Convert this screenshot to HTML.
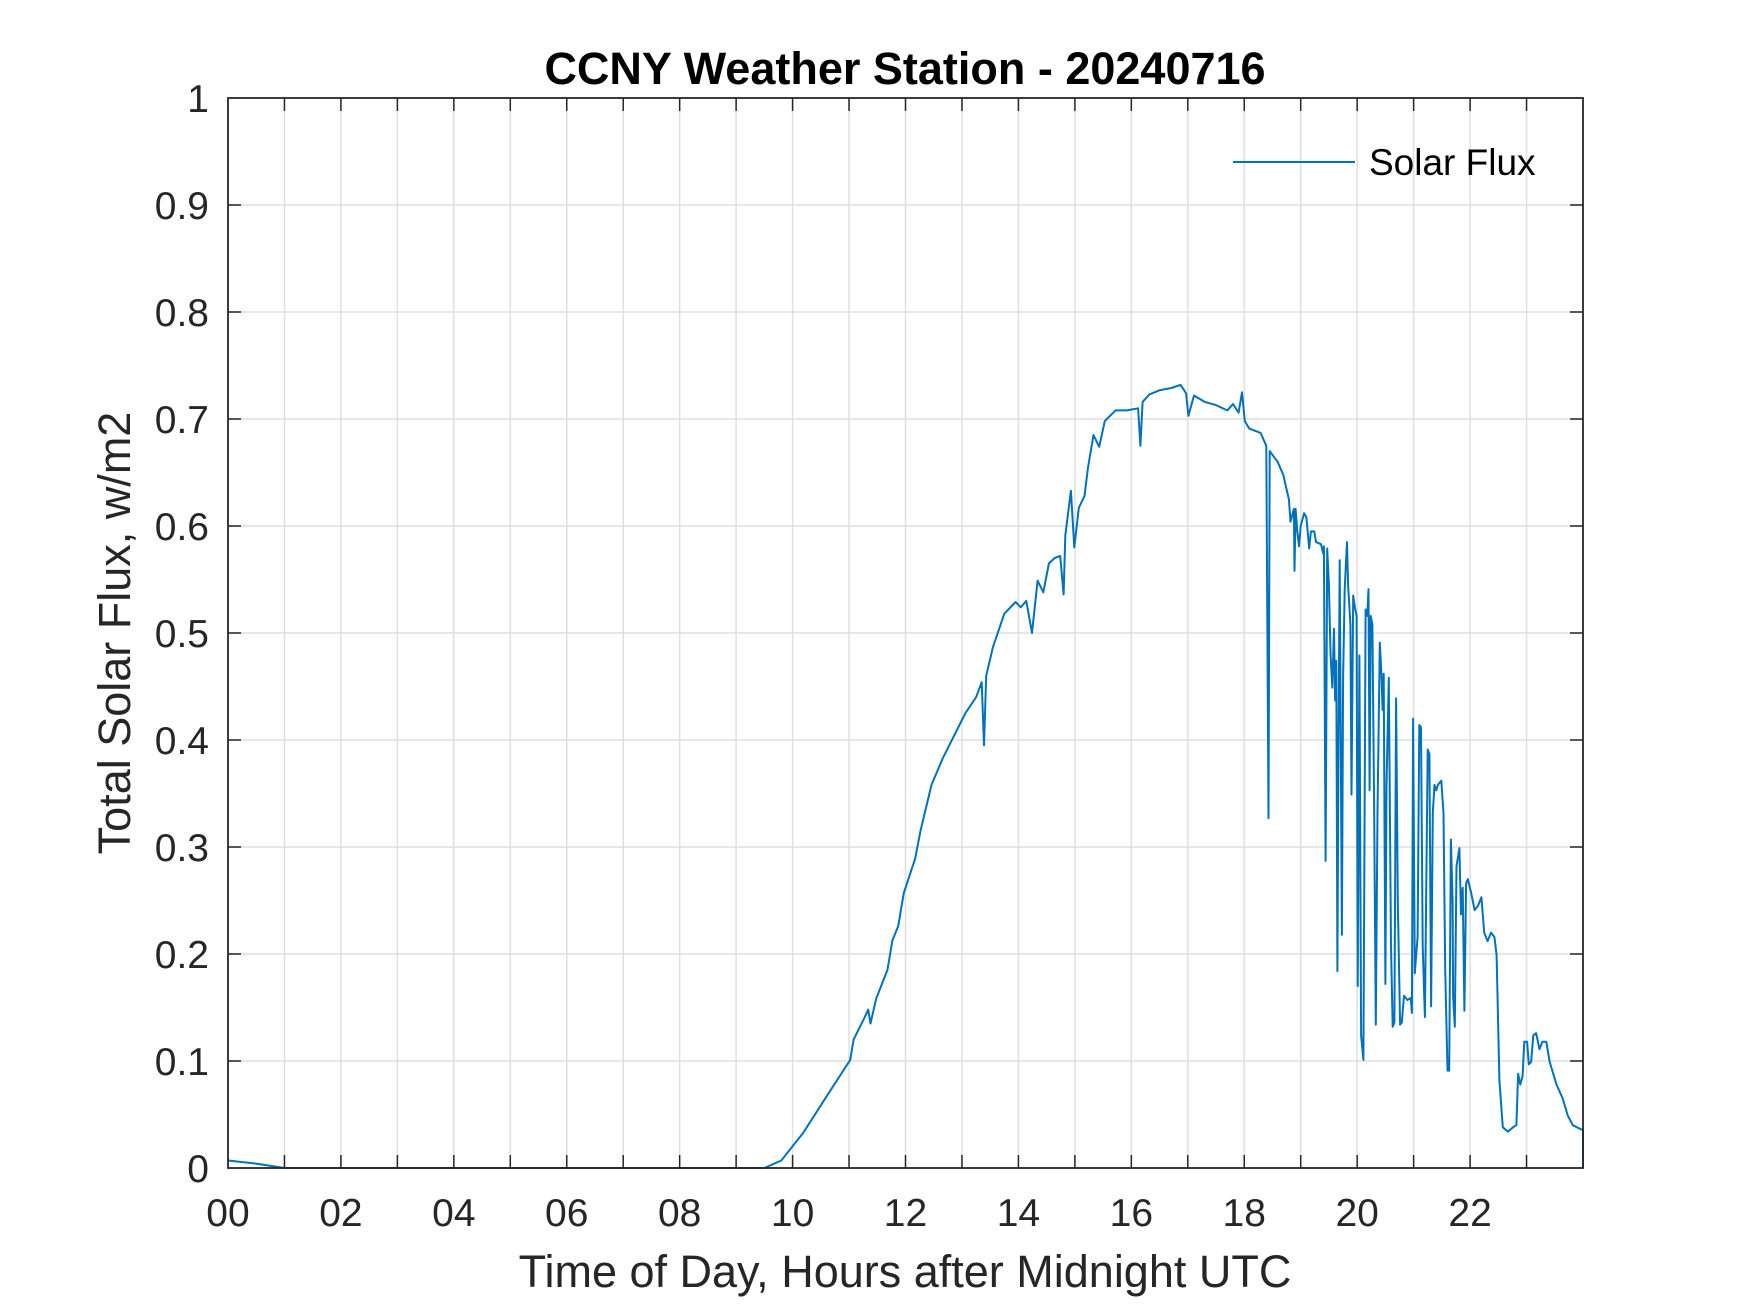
<!DOCTYPE html>
<html><head><meta charset="utf-8"><style>
html,body{margin:0;padding:0;background:#fff;}
svg{display:block;font-family:"Liberation Sans",Arial,sans-serif;}
</style></head><body>
<svg id="chart" width="1750" height="1313" viewBox="0 0 1750 1313">
<rect width="1750" height="1313" fill="#fff"/>
<g id="grid"></g>
<g id="series"></g>
<g id="axes"></g>
<text x="905" y="84" text-anchor="middle" font-size="45" font-weight="bold" fill="#000">CCNY Weather Station - 20240716</text>
<text x="905" y="1287" text-anchor="middle" font-size="45" fill="#262626">Time of Day, Hours after Midnight UTC</text>
<text transform="translate(130,633) rotate(-90)" text-anchor="middle" font-size="45" fill="#262626">Total Solar Flux, w/m2</text>
<g>
<line x1="1233" y1="162" x2="1355" y2="162" stroke="#0072BD" stroke-width="2"/>
<text x="1369" y="175" font-size="37" fill="#000">Solar Flux</text>
</g>
</svg>
<script>
const hours = [0,0.51,1.0,9.5,9.8,10.19,10.59,11.02,11.08,11.28,11.34,11.38,11.48,11.68,11.77,11.87,11.97,12.17,12.27,12.46,12.66,12.86,13.06,13.25,13.35,13.39,13.43,13.55,13.75,13.95,14.04,14.14,14.24,14.34,14.44,14.54,14.64,14.74,14.80,14.83,14.93,14.99,15.07,15.17,15.23,15.33,15.43,15.53,15.72,15.92,16.12,16.16,16.20,16.32,16.51,16.71,16.87,16.97,17.01,17.11,17.30,17.50,17.70,17.80,17.90,17.96,18.01,18.09,18.29,18.39,18.43,18.45,18.59,18.69,18.79,18.82,18.88,18.89,18.91,18.94,18.97,19.0,19.06,19.10,19.15,19.18,19.24,19.27,19.36,19.40,19.41,19.44,19.47,19.50,19.53,19.56,19.59,19.61,19.63,19.65,19.67,19.69,19.73,19.75,19.78,19.82,19.84,19.88,19.90,19.93,19.96,19.99,20.01,20.04,20.07,20.11,20.15,20.18,20.20,20.22,20.24,20.27,20.30,20.33,20.36,20.40,20.43,20.45,20.47,20.50,20.52,20.56,20.60,20.63,20.66,20.69,20.72,20.76,20.79,20.83,20.89,20.95,20.97,20.99,21.02,21.07,21.10,21.13,21.16,21.20,21.25,21.28,21.31,21.34,21.37,21.40,21.43,21.49,21.53,21.56,21.60,21.63,21.66,21.69,21.70,21.73,21.76,21.81,21.84,21.87,21.90,21.93,21.96,22.02,22.08,22.14,22.20,22.25,22.31,22.37,22.43,22.47,22.52,22.58,22.67,22.76,22.82,22.85,22.89,22.93,22.96,23.01,23.04,23.08,23.12,23.17,23.23,23.28,23.35,23.41,23.53,23.64,23.73,23.82,23.97,24.0,24.0];
const flux = [0.007,0.004,0,0,0.007,0.033,0.066,0.101,0.12,0.141,0.148,0.135,0.158,0.185,0.213,0.226,0.257,0.289,0.316,0.358,0.383,0.404,0.425,0.44,0.454,0.395,0.46,0.487,0.518,0.529,0.524,0.53,0.50,0.549,0.538,0.565,0.570,0.572,0.536,0.591,0.633,0.58,0.617,0.628,0.654,0.685,0.674,0.698,0.708,0.708,0.71,0.675,0.716,0.723,0.727,0.729,0.732,0.724,0.703,0.722,0.716,0.713,0.708,0.714,0.706,0.725,0.698,0.691,0.687,0.675,0.327,0.67,0.66,0.648,0.625,0.604,0.616,0.558,0.616,0.595,0.581,0.60,0.612,0.608,0.579,0.595,0.595,0.585,0.583,0.574,0.581,0.287,0.579,0.545,0.479,0.449,0.504,0.437,0.474,0.184,0.399,0.568,0.218,0.458,0.541,0.585,0.545,0.508,0.349,0.535,0.524,0.516,0.17,0.479,0.124,0.101,0.522,0.516,0.541,0.353,0.516,0.508,0.341,0.134,0.332,0.491,0.462,0.428,0.462,0.172,0.358,0.458,0.207,0.132,0.136,0.439,0.249,0.134,0.136,0.161,0.157,0.159,0.145,0.42,0.182,0.216,0.414,0.412,0.207,0.141,0.391,0.387,0.151,0.332,0.358,0.353,0.358,0.362,0.332,0.186,0.091,0.091,0.307,0.249,0.161,0.132,0.282,0.299,0.237,0.262,0.147,0.266,0.27,0.257,0.241,0.245,0.253,0.22,0.212,0.22,0.216,0.199,0.082,0.038,0.034,0.038,0.04,0.088,0.078,0.086,0.118,0.118,0.097,0.099,0.124,0.126,0.111,0.118,0.118,0.099,0.078,0.065,0.049,0.04,0.036,0.036,0];
const xTickHours = [0,2,4,6,8,10,12,14,16,18,20,22];
const xTickLabels = ["00","02","04","06","08","10","12","14","16","18","20","22"];
const yTickValues = [0,0.1,0.2,0.3,0.4,0.5,0.6,0.7,0.8,0.9,1];
const yTickLabels = ["0","0.1","0.2","0.3","0.4","0.5","0.6","0.7","0.8","0.9","1"];

const NS = "http://www.w3.org/2000/svg";
const L = 228, R = 1583, T = 98, B = 1168;
const xMin = 0, xMax = 24, yMin = 0, yMax = 1;
function xs(h){ return L + (h - xMin) / (xMax - xMin) * (R - L); }
function ys(v){ return B - (v - yMin) / (yMax - yMin) * (B - T); }
function mk(tag, attrs, parent){
  const e = document.createElementNS(NS, tag);
  for (const k in attrs) e.setAttribute(k, attrs[k]);
  parent.appendChild(e);
  return e;
}
const grid = document.getElementById('grid');
const axes = document.getElementById('axes');
const series = document.getElementById('series');

for (let h = 1; h < 24; h++) {
  const gl = mk('line', {x1: xs(h), y1: T, x2: xs(h), y2: B, stroke: '#dfdfdf', 'stroke-width': 1.5}, grid);
  
  
  const t1 = mk('line', {x1: xs(h), y1: B, x2: xs(h), y2: B - 13, stroke: '#262626', 'stroke-width': 1.5}, axes);
  
  
  const t2 = mk('line', {x1: xs(h), y1: T, x2: xs(h), y2: T + 13, stroke: '#262626', 'stroke-width': 1.5}, axes);
  
  
}
yTickValues.forEach((v, i) => {
  if (v > yMin && v < yMax) {
    const gl = mk('line', {x1: L, y1: ys(v), x2: R, y2: ys(v), stroke: '#dfdfdf', 'stroke-width': 1.5}, grid);
    
    
    const t1 = mk('line', {x1: L, y1: ys(v), x2: L + 13, y2: ys(v), stroke: '#262626', 'stroke-width': 1.5}, axes);
    
    
    const t2 = mk('line', {x1: R, y1: ys(v), x2: R - 13, y2: ys(v), stroke: '#262626', 'stroke-width': 1.5}, axes);
    
    
  }
  const tl = mk('text', {x: 209, y: ys(v) + 14, 'text-anchor': 'end', 'font-size': 39, fill: '#262626'}, axes);
  tl.textContent = yTickLabels[i];
  
  
});
xTickHours.forEach((h, i) => {
  const tl = mk('text', {x: xs(h), y: 1226, 'text-anchor': 'middle', 'font-size': 39, fill: '#262626'}, axes);
  tl.textContent = xTickLabels[i];
  
  
});
const frame = mk('rect', {x: L, y: T, width: R - L, height: B - T, fill: 'none', stroke: '#262626', 'stroke-width': 1.8}, axes);



let d = '';
hours.forEach((h, i) => { d += (i ? 'L' : 'M') + xs(h).toFixed(1) + ',' + ys(flux[i]).toFixed(1); });
const path = mk('path', {d: d, fill: 'none', stroke: '#0072BD', 'stroke-width': 2, 'stroke-linejoin': 'round'}, series);


</script>
</body></html>
